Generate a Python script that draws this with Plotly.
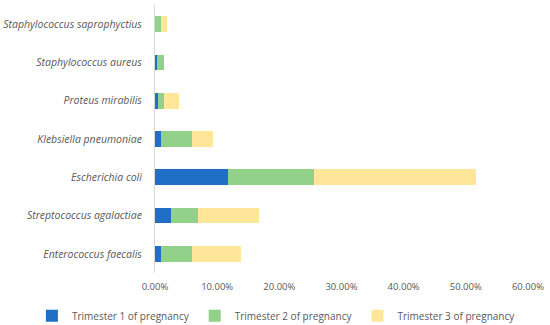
import plotly.graph_objects as go

categories = ["Enterococcus faecalis", "Streptococcus agalactiae", "Escherichia coli",
              "Klebsiella pneumoniae", "Proteus mirabilis", "Staphylococcus aureus",
              "Staphylococcus saprophyctius"]
trimester1 = [0.010, 0.025, 0.117, 0.010, 0.005, 0.004, 0.000]
trimester2 = [0.049, 0.044, 0.138, 0.049, 0.010, 0.011, 0.009]
trimester3 = [0.079, 0.098, 0.261, 0.034, 0.024, 0.000, 0.010]
series_names = ["Trimester 1 of pregnancy", "Trimester 2 of pregnancy", "Trimester 3 of pregnancy"]
colors = ["#1F6FC6", "#92D18A", "#FFE699"]

fig = go.Figure()
for name, vals, c in zip(series_names, [trimester1, trimester2, trimester3], colors):
    fig.add_trace(go.Bar(y=categories, x=vals, name=name, orientation="h",
                         marker=dict(color=c, line=dict(width=0))))

fig.update_layout(
    barmode="stack",
    bargap=0.59,
    width=550, height=325,
    margin=dict(l=155, r=22, t=5, b=52, autoexpand=False),
    plot_bgcolor="white", paper_bgcolor="white",
    font=dict(family="Open Sans", size=10, color="#595959"),
    showlegend=True,
    legend=dict(orientation="h", x=-0.33, xanchor="left", xref="paper",
                yref="paper", y=-0.105, yanchor="top",
                font=dict(size=10, color="#595959"),
                itemwidth=30, traceorder="normal"),
    xaxis=dict(range=[0, 0.6001], dtick=0.1, tickformat=".2%", showgrid=False, zeroline=False,
               showline=False, ticks="", tickfont=dict(size=9.5, color="#595959"),
               ticklabelstandoff=6, automargin=False),
    yaxis=dict(showline=True, linecolor="#D9D9D9", linewidth=1, ticks="", showgrid=False,
               tickfont=dict(size=10.5, color="#595959", style="italic"), ticklabelstandoff=10,
               automargin=False),
)

fig.write_html("out.html", config={"displayModeBar": False},
               post_script="document.body.style.margin='0';")
